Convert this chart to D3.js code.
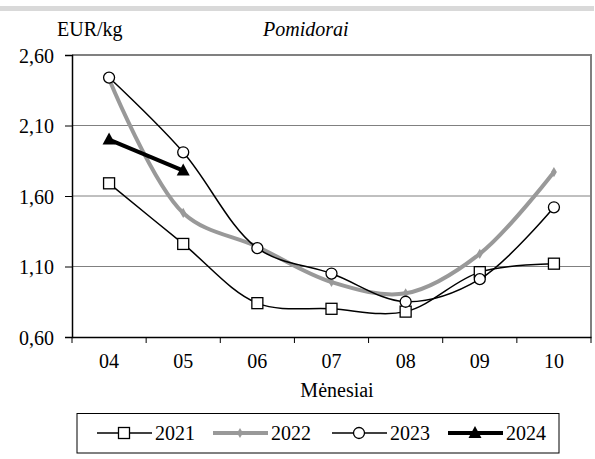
<!DOCTYPE html>
<html>
<head>
<meta charset="utf-8">
<script src="https://cdn.jsdelivr.net/npm/d3@7"></script>
<style>
  svg text { font-family: "Liberation Serif", serif !important; }
</style>
</head>
<body style="margin:0">
<script>
var W = 595, H = 459;

// data
var months = ["04", "05", "06", "07", "08", "09", "10"];
var yTicks = [0.6, 1.1, 1.6, 2.1, 2.6];
var v2021 = [1.69, 1.26, 0.84, 0.80, 0.78, 1.06, 1.12];
var v2022 = [2.43, 1.48, 1.24, 0.99, 0.91, 1.19, 1.77];
var v2023 = [2.44, 1.91, 1.23, 1.05, 0.85, 1.01, 1.52];
var v2024 = [2.00, 1.78];

var series = [
  { name: "2021", values: v2021, color: "#000", width: 1.5, marker: "square" },
  { name: "2022", values: v2022, color: "#999", width: 4, marker: "diamond" },
  { name: "2023", values: v2023, color: "#000", width: 1.5, marker: "circle" },
  { name: "2024", values: v2024, color: "#000", width: 4, marker: "triangle" }
];

var mLeft = 72, mRight = 591, mTop = 55, mBottom = 337;
var serifFace = "Liberation Serif";
var fs = "20px";

var svg = d3.select("body").append("svg")
    .attr("width", W)
    .attr("height", H);

// top gray band
svg.append("rect")
    .attr("x", 0).attr("y", 6)
    .attr("width", 594).attr("height", 5)
    .attr("fill", "#d9d9d9");

var x = d3.scaleBand().domain(months).range([mLeft, mRight]);
var y = d3.scaleLinear().domain([0.6, 2.6]).range([mBottom, mTop]);

// gridlines
svg.selectAll("line.grid")
    .data(yTicks.slice(1, 4))
    .enter().append("line")
    .attr("class", "grid")
    .attr("x1", mLeft).attr("x2", mRight)
    .attr("y1", function(d) { return y(d); })
    .attr("y2", function(d) { return y(d); })
    .attr("stroke", "#808080")
    .attr("stroke-width", 1);

// plot frame top / right
svg.append("path")
    .attr("d", "M" + mLeft + "," + mTop + "H" + mRight + "V" + mBottom)
    .attr("fill", "none")
    .attr("stroke", "#808080")
    .attr("stroke-width", 2);

// y axis
var yAxis = svg.append("g")
    .attr("transform", "translate(" + mLeft + ",0)")
    .call(d3.axisLeft(y).tickValues(yTicks).tickSize(7).tickPadding(11)
      .tickFormat(function(d) { return d3.format(".2f")(d).replace(".", ","); }));
yAxis.attr("font-family", serifFace).attr("font-size", 20);
yAxis.select(".domain").attr("stroke", "#000").attr("stroke-width", 1.5);
yAxis.selectAll("text").style("font-size", fs).attr("dy", "0.35em");

// x axis
var xAxis = svg.append("g")
    .attr("transform", "translate(0," + mBottom + ")")
    .call(d3.axisBottom(x).tickSize(0));
xAxis.attr("font-family", serifFace).attr("font-size", 20);
xAxis.select(".domain").attr("stroke", "#000").attr("stroke-width", 1.5);
xAxis.selectAll("text").style("font-size", fs)
    .attr("dy", null).attr("y", 31);

// x tick marks at category boundaries
var bounds = months.map(function(m) { return x(m); }).concat([x.range()[1]]);
svg.selectAll("line.xt")
    .data(bounds)
    .enter().append("line")
    .attr("class", "xt")
    .attr("x1", function(d) { return d; }).attr("x2", function(d) { return d; })
    .attr("y1", mBottom).attr("y2", mBottom + 6)
    .attr("stroke", "#000");

// titles
svg.append("text").attr("x", 57).attr("y", 36)
    .style("font-size", fs).text("EUR/kg");
svg.append("text").attr("x", 263).attr("y", 36)
    .style("font-size", fs)
    .style("font-style", "italic").text("Pomidorai");
svg.append("text").attr("x", 337).attr("y", 397)
    .attr("text-anchor", "middle")
    .style("font-size", fs).text("Mėnesiai");

function cx(i) { return x(months[i]) + x.bandwidth() / 2; }

var line = d3.line()
    .x(function(d, i) { return cx(i); })
    .y(function(d) { return y(d); })
    .curve(d3.curveCatmullRom.alpha(0.5));

function drawMarker(g, type, px, py) {
  if (type == "square") {
    g.append("rect").attr("x", px - 5.5).attr("y", py - 5.5)
      .attr("width", 11).attr("height", 11)
      .attr("fill", "#fff").attr("stroke", "#000").attr("stroke-width", 1.3);
  } else if (type == "circle") {
    g.append("circle").attr("cx", px).attr("cy", py).attr("r", 5.5)
      .attr("fill", "#fff").attr("stroke", "#000").attr("stroke-width", 1.3);
  } else if (type == "diamond") {
    g.append("path")
      .attr("d", d3.symbol().type(d3.symbolDiamond).size(30)())
      .attr("transform", "translate(" + px + "," + py + ")")
      .attr("fill", "#999");
  } else if (type == "triangle") {
    g.append("path")
      .attr("d", "M0,-7L6.5,5L-6.5,5Z")
      .attr("transform", "translate(" + px + "," + py + ")")
      .attr("fill", "#000");
  }
}

series.forEach(function(s) {
  var g = svg.append("g");
  g.append("path")
    .datum(s.values)
    .attr("d", line)
    .attr("fill", "none")
    .attr("stroke", s.color)
    .attr("stroke-width", s.width)
    .attr("stroke-linejoin", "round");
  s.values.forEach(function(v, i) { drawMarker(g, s.marker, cx(i), y(v)); });
});

// legend
svg.append("rect")
    .attr("x", 77).attr("y", 413.5)
    .attr("width", 482).attr("height", 39.5)
    .attr("fill", "none").attr("stroke", "#000").attr("stroke-width", 1);

var legX = [97, 213, 332, 448];
series.forEach(function(s, i) {
  var g = svg.append("g");
  var ly = 433;
  g.append("line")
    .attr("x1", legX[i]).attr("x2", legX[i] + 55)
    .attr("y1", ly).attr("y2", ly)
    .attr("stroke", s.color).attr("stroke-width", s.width);
  drawMarker(g, s.marker, legX[i] + 27, ly);
  g.append("text")
    .attr("x", legX[i] + 58).attr("y", 440)
    .style("font-size", fs).text(s.name);
});
</script>
</body>
</html>
